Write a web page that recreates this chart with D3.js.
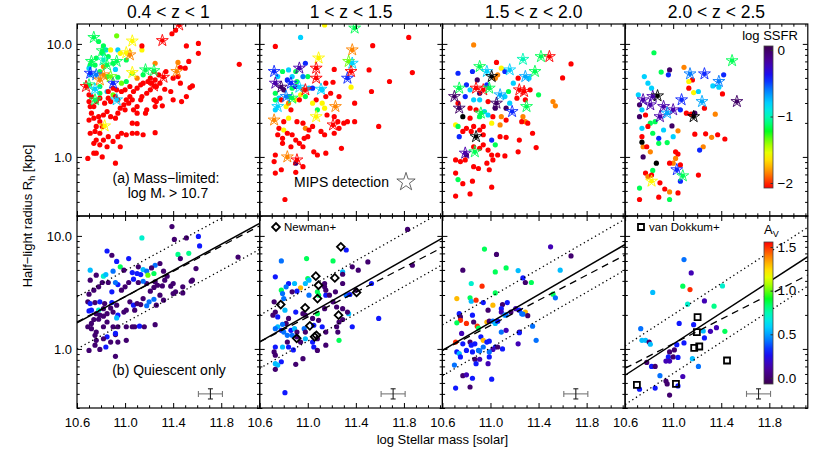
<!DOCTYPE html>
<html>
<head>
<meta charset="utf-8">
<script src="https://cdn.jsdelivr.net/npm/d3@7"></script>
<style>
  body { margin: 0; background: #fff; }
  text { font-family: "Liberation Sans", Arial, Helvetica, sans-serif; fill: #000; }
</style>
</head>
<body>
<svg id="chart" width="830" height="457"></svg>
<script>
// ---- data -------------------------------------------------------------
const panelTitles = ["0.4 < z < 1", "1 < z < 1.5", "1.5 < z < 2.0", "2.0 < z < 2.5"];
const massTicks = [10.6, 11.0, 11.4, 11.8];
const radiusTicks = [1, 10];
const radiusMinor = [0.3, 0.4, 0.5, 0.6, 0.7, 0.8, 0.9, 2, 3, 4, 5, 6, 7, 8, 9];
const ssfrTicks = [0, -1, -2];
const avTicks = [0, 0.5, 1.0, 1.5];

// [log mass, R_h (kpc), log SSFR]  (SSFR above the bar range is drawn black)
const topDots1 = [[10.93,11.8,-1.35],[10.78,10.5,-1.15],[10.82,9.6,-1.15],[10.84,8.85,-0.8],[10.81,8.25,-1.15],[10.86,7.72,-1.15],[10.88,8.85,-1.6],[10.94,8.85,-0.8],[10.96,8.25,-1.6],[10.76,7.5,-1.15],[10.71,6.5,-1.15],[10.70,6.1,-0.8],[10.75,6.5,-1.15],[10.90,6.74,-1.15],[10.92,5.95,-0.8],[10.82,6.3,-1.85],[11.01,7.2,-1.15],[11.14,8.85,-1.6],[11.25,6.74,-1.85],[10.71,5.33,-0.8],[10.79,5.7,-1.15],[10.85,5.14,-1.15],[10.94,5.07,-1.15],[11.06,5.5,-1.15],[11.10,4.97,-1.85],[11.15,5.33,-1.15],[10.97,4.49,-1.35],[11.01,4.65,-1.15],[10.79,4.2,-1.15],[10.85,3.79,-0.8],[10.79,3.66,-1.15],[10.90,3.54,-1.35],[11.44,6.85,-1.85],
  [10.70,3.09,-2.1],[10.71,2.79,-2.1],[10.72,2.44,-2.1],[10.70,2.12,-2.1],[10.74,2.2,-2.1],[10.78,2.27,-2.1],[10.79,2.05,-2.1],[10.82,2.35,-2.1],[10.85,2.52,-2.1],[10.81,1.86,-2.1],[10.76,1.86,-2.1],[10.75,1.68,-2.1],[10.79,1.62,-2.1],[10.71,1.62,-2.1],[10.76,1.41,-2.1],[10.82,1.41,-2.1],[10.86,1.51,-2.1],[10.74,1.32,-2.1],[10.79,1.28,-2.1],[10.85,1.23,-2.1],[10.90,1.37,-2.1],[10.94,1.51,-2.1],[10.96,1.23,-2.1],[10.74,1.08,-2.1],[10.69,0.97,-2.1],[10.76,1.08,-2.1],[10.81,1.0,-2.1],[10.92,0.88,-2.1],[10.97,1.62,-2.1],[11.01,1.57,-2.1],[11.06,1.62,-2.1],[11.10,1.62,-2.1],[11.15,1.57,-2.1],[11.25,1.64,-2.1],[11.06,1.99,-2.1],[11.10,1.97,-2.1],[10.88,2.27,-2.1],[10.92,2.2,-2.1],[10.94,2.44,-2.1],[10.96,2.7,-2.1],[11.0,2.61,-2.1],[11.03,2.99,-2.1],[11.06,3.2,-2.1],[11.10,2.79,-2.1],[11.13,3.2,-2.1],[11.14,3.42,-2.1],[11.18,3.66,-2.1],[11.21,3.92,-2.1],[11.24,3.2,-2.1],[11.26,3.09,-2.1],[11.29,3.31,-2.1],[11.31,2.83,-2.1],[11.25,2.79,-2.1],[11.18,2.61,-2.1],[11.17,2.44,-2.1],[11.10,2.44,-2.1],[11.07,2.61,-2.1],[11.04,3.42,-2.1],[11.01,3.2,-2.1],[10.99,2.89,-2.1],[10.94,3.2,-2.1],[10.92,3.42,-2.1],[10.86,3.31,-2.1],[10.88,3.09,-2.1],[10.83,2.99,-2.1],[10.79,3.31,-2.1],[10.76,3.09,-2.1],[10.72,3.42,-2.1],[10.74,2.79,-2.1],[11.33,3.97,-2.1],[11.38,3.79,-2.1],[11.40,3.2,-2.1],[11.47,3.09,-2.1],[11.51,3.42,-2.1],[11.54,4.11,-2.1],[11.56,4.25,-2.1],[11.46,4.49,-2.1],[11.44,5.14,-2.1],[11.40,4.97,-2.1],[11.29,4.49,-2.1],[11.26,4.2,-2.1],[11.22,4.49,-2.1],[11.19,4.65,-2.1],[11.15,4.49,-2.1],[11.13,4.34,-2.1],[11.10,4.06,-2.1],[11.07,3.79,-2.1],[11.04,4.2,-2.1],[11.0,3.92,-2.1],[10.97,3.79,-2.1],[10.93,3.92,-2.1],[10.90,4.06,-2.1],[10.86,3.79,-2.1],[11.25,4.8,-2.1],[11.28,5.33,-2.1],[11.21,4.97,-2.1],[11.24,5.7,-2.1],[11.34,5.7,-2.1],[11.39,12.3,-2.1],[11.42,13.2,-2.1],[11.51,9.6,-2.1],[11.61,10.1,-2.1],[11.61,8.25,-2.1],[11.53,7.0,-2.1],[11.95,6.6,-2.1],[11.46,6.17,-2.1],[11.50,6.1,-2.1],[11.14,9.6,-2.1],[10.70,3.54,-2.1]];
const topStars1 = [[10.74,11.4,-1.15],[11.06,10.6,-1.6],[11.31,10.7,-2.1],[11.45,14.7,-2.1],[11.01,8.35,-1.6],[11.04,8.0,-1.85],[10.81,8.7,-1.15],[10.82,7.2,-1.0],[10.72,7.0,-1.15],[10.93,7.0,-1.15],[10.71,5.5,-0.45],[10.82,5.33,-1.85],[10.76,5.33,-0.6],[10.90,4.49,-0.45],[10.70,4.34,-1.15],[10.79,4.8,-1.85],[10.75,3.97,-0.8],[11.06,5.58,-1.6],[11.17,5.89,-1.15],[11.24,5.8,-1.15],[11.32,5.07,-2.1],[11.43,5.7,-1.85],[11.24,4.25,-2.1],[10.75,3.2,-1.15],[10.93,3.2,-0.8],[10.83,1.88,-1.6],[10.675,4.2,-2.1],[10.85,6.5,-1.15],[10.88,5.14,-1.35]];

const topDots2 = [[11.14,14.7,-1.6],[10.94,11.4,-0.8],[10.73,9.5,-2.1],[11.84,11.4,-2.1],[11.54,9.65,-2.1],[10.79,5.7,-1.15],[10.84,5.89,-0.8],[10.9,5.7,-1.15],[10.98,6.74,-0.45],[11.0,5.14,-1.15],[11.22,5.95,-2.1],[11.21,4.58,-2.1],[11.36,4.14,-1.6],[11.51,5.89,-2.1],[11.68,4.65,-2.1],[11.87,5.58,-2.1],[11.53,3.79,-2.1],[11.39,2.99,-2.1],[11.26,3.42,-2.1],[11.15,3.42,-2.1],[11.07,3.2,-2.1],[11.12,2.99,-1.6],[11.04,2.99,-1.6],[11.08,2.61,-1.15],[11.14,2.7,-1.6],[11.16,2.35,-2.1],[11.22,2.27,-2.1],[11.25,2.05,-2.1],[11.30,1.99,-2.1],[11.33,2.05,-2.1],[11.39,2.05,-2.1],[11.26,1.79,-2.1],[11.22,1.62,-2.1],[11.14,1.57,-2.1],[11.11,1.68,-2.1],[11.04,1.86,-2.1],[10.98,1.79,-1.85],[11.01,1.73,-2.1],[10.96,1.99,-2.1],[10.91,2.05,-2.1],[10.84,2.2,-1.6],[10.80,2.05,-2.1],[10.76,1.79,-2.1],[10.80,1.73,-1.6],[10.75,1.57,-2.1],[10.79,1.46,-2.1],[10.83,1.62,-2.1],[10.87,1.57,-2.1],[10.9,1.41,-2.1],[10.93,1.32,-2.1],[10.96,1.23,-2.1],[10.97,1.46,-2.1],[11.0,1.51,-2.1],[11.05,1.11,-2.1],[11.08,1.04,-2.1],[11.15,1.08,-2.1],[11.28,1.19,-2.1],[10.86,1.23,-2.1],[10.79,1.32,-2.1],[10.73,1.04,-2.1],[10.72,0.91,-2.1],[10.78,0.77,-2.1],[10.73,0.72,-2.1],[10.90,0.73,-2.1],[10.96,0.82,-2.1],[10.90,0.88,0],[11.59,1.86,-2.1],[10.81,0.42,-2.1],[10.86,2.61,-2.1],[10.82,2.79,-1.6],[10.9,3.2,-1.6],[10.98,3.42,-1.15],[11.01,4.06,-0.8],[10.96,3.92,-1.85],[10.84,3.42,-1.15],[10.76,3.31,-0.8],[10.73,3.66,-1.15],[10.73,3.2,-1.15],[10.75,5.14,-0.8],[10.83,4.8,-0.45],[10.87,5.14,-0.8],[10.96,5.14,-0.6],[10.91,4.65,-1.15],[10.80,3.92,0],[10.87,4.06,-1.15],[10.94,3.54,-1.6],[11.04,4.06,-0.45],[11.12,3.92,-0.8],[11.15,4.49,-2.1],[11.19,3.66,-2.1],[10.73,2.61,-0.8],[10.9,4.2,-0.2],[10.78,3.2,-2.1],[10.84,2.99,-1.85],[10.93,3.2,-2.1]];
const topStars2 = [[11.39,13.8,-1.15],[11.37,8.85,-1.85],[11.09,7.5,-1.6],[11.34,7.0,-1.35],[11.37,6.74,-0.8],[10.93,6.1,-0.2],[10.72,5.7,-0.45],[11.07,6.1,-2.1],[11.33,4.97,-0.45],[11.36,5.7,-2.1],[11.07,4.97,-2.1],[10.73,4.49,-0.2],[10.78,4.14,0],[10.86,4.49,-0.45],[10.93,4.14,-0.8],[10.98,3.92,-2.1],[11.11,3.97,-0.8],[10.75,2.79,-0.8],[11.23,2.79,-1.85],[11.07,2.27,-1.6],[11.21,1.92,-2.1],[10.72,2.12,-1.85],[10.83,1.0,-1.85],[10.91,0.94,-2.1],[10.87,3.31,-1.15],[10.82,3.42,-0.6]];

const topDots3 = [[10.86,9.8,-1.85],[11.67,6.65,-2.1],[11.05,6.85,-2.1],[11.09,6.1,-1.6],[11.12,5.7,-0.45],[11.06,5.33,-1.85],[11.04,4.97,-1.85],[10.73,5.5,-0.45],[10.85,5.7,-0.45],[11.23,4.97,-2.1],[11.32,4.97,-0.8],[10.89,4.8,0],[11.60,5.0,-2.1],[10.80,4.34,-0.45],[10.91,3.66,0],[11.33,3.92,-2.1],[11.15,3.79,-1.15],[10.73,2.99,-2.1],[11.16,2.99,-0.8],[11.13,2.7,0],[11.40,3.54,-1.15],[11.52,3.09,-1.85],[11.54,2.83,-1.85],[10.86,3.2,-0.8],[10.91,3.2,-0.8],[10.98,3.09,-2.1],[10.83,2.7,-2.1],[10.88,2.61,-2.1],[10.95,2.52,-0.8],[10.91,2.27,-1.15],[10.98,2.35,-0.8],[11.02,2.27,-2.1],[11.27,2.27,-1.85],[11.29,2.05,-1.85],[11.26,2.05,-2.1],[11.31,1.99,-2.1],[11.09,2.27,-1.85],[11.13,2.12,-2.1],[11.08,1.92,-1.85],[11.01,1.99,-1.6],[10.71,1.92,-1.6],[10.73,1.86,-1.15],[10.80,1.79,-2.1],[10.86,1.86,-2.1],[10.77,1.68,-2.1],[10.84,1.68,-2.1],[10.74,1.51,-0.45],[10.94,1.57,-2.1],[11.01,1.41,-0.45],[11.08,1.51,-2.1],[11.13,1.49,-2.1],[11.04,1.28,-1.15],[10.94,1.28,-2.1],[10.91,1.19,-2.1],[10.98,1.15,-2.1],[11.01,1.04,-2.1],[11.06,1.04,-2.1],[11.12,1.02,-2.1],[10.86,1.23,-2.1],[10.80,1.04,0],[10.71,0.94,-2.1],[10.75,0.91,-2.1],[10.79,0.94,-2.1],[10.86,0.82,-2.1],[10.90,0.79,-2.1],[10.97,0.88,-2.1],[11.02,0.94,-2.1],[10.99,0.77,-2.1],[11.23,1.11,-2.1],[11.24,1.41,-2.1],[11.38,1.21,-2.1],[11.35,1.62,-2.1],[10.71,0.72,-2.1],[10.73,0.63,-1.15],[10.77,0.58,-2.1],[10.85,0.61,-2.1],[11.01,0.54,-2.1],[10.71,0.45,-2.1],[10.83,0.47,-2.1],[10.94,1.86,-2.1],[10.91,1.73,-2.1],[10.77,2.27,0.3],[10.83,2.2,-2.1],[11.04,2.7,0],[10.97,4.34,-0.45],[10.83,3.92,-0.8],[10.79,3.42,-0.45],[11.19,4.49,-0.8],[11.12,3.42,-0.8],[11.22,3.31,-2.1],[11.29,3.2,-2.1]];
const topStars3 = [[11.49,7.72,-2.1],[11.42,7.72,-1.15],[11.27,7.3,-1.0],[10.91,6.3,-1.15],[10.97,5.7,-0.8],[11.16,5.89,-0.8],[11.01,5.14,0.3],[11.37,5.7,-1.15],[11.29,5.14,-0.7],[10.74,4.06,-1.15],[10.70,3.42,0],[10.74,2.7,0],[10.88,4.06,-2.1],[10.94,3.92,-2.1],[10.99,4.06,-1.15],[11.08,3.54,-0.7],[11.24,3.92,-2.1],[11.28,3.79,-2.1],[11.05,2.99,0],[11.18,2.52,-0.45],[11.30,2.79,-1.15],[10.88,1.51,0.3],[10.79,1.08,-0.2],[10.87,1.11,-1.15],[10.92,2.44,-1.15]];

const topDots4 = [[10.84,8.35,-1.15],[11.09,6.2,-1.85],[10.90,5.63,-1.15],[10.97,5.89,0],[10.96,5.33,-0.45],[10.76,5.14,-0.8],[11.42,5.33,-0.45],[10.79,4.49,-0.8],[10.82,4.06,-0.8],[10.71,3.54,-0.8],[11.13,4.06,-2.1],[11.17,3.71,-1.6],[11.21,3.79,-0.8],[11.16,4.8,-2.1],[11.13,4.65,-1.6],[11.33,4.25,-0.8],[11.38,4.14,-0.8],[11.41,3.61,-2.1],[11.26,2.7,-2.1],[11.35,2.39,-1.85],[11.11,2.44,-2.1],[11.06,2.61,-0.45],[11.15,2.39,-2.1],[11.18,2.44,0],[10.72,2.89,0],[10.74,2.61,-0.8],[10.72,2.27,0],[10.77,2.35,-2.1],[10.85,2.05,-1.15],[10.81,1.99,-1.15],[10.79,1.86,-2.1],[10.74,1.79,-0.8],[10.99,1.88,0],[10.92,1.73,-0.8],[11.04,1.70,-1.85],[11.18,1.59,-2.1],[11.27,1.6,-2.1],[11.32,1.49,-1.85],[11.37,1.57,-2.1],[11.43,1.44,-2.1],[11.25,1.23,-1.85],[11.22,1.15,-0.45],[10.74,1.51,-2.1],[10.75,1.23,-1.85],[10.78,1.23,-2.1],[10.81,1.11,-1.85],[10.83,1.62,-1.15],[10.88,1.46,-0.45],[10.88,1.32,-1.15],[10.95,1.34,-1.15],[11.0,1.51,-0.8],[10.74,1.35,0.3],[10.75,1.0,0],[11.02,1.11,-2.1],[11.04,1.06,-2.1],[11.02,0.97,-1.85],[11.0,0.88,-1.85],[10.97,0.88,-2.1],[11.06,0.85,-2.1],[10.86,0.88,0.3],[10.89,0.59,-2.1],[10.77,0.72,-2.1],[10.79,0.67,-1.85],[10.83,0.76,-1.15],[10.82,0.69,-2.1],[11.06,0.61,-0.45],[11.21,0.69,-2.1],[10.72,0.53,-1.15],[10.93,0.52,-2.1],[10.97,0.49,-1.85],[11.04,0.48,-2.1],[10.72,0.42,-2.1],[10.88,0.44,-2.1],[10.97,0.42,-1.15]];
const topStars4 = [[11.49,7.1,-1.15],[11.53,3.09,0],[11.14,5.43,-0.6],[11.26,5.43,-0.45],[11.38,4.65,-0.6],[10.75,3.2,-0.2],[10.83,3.42,-0.2],[10.87,3.47,0.3],[10.81,2.89,-0.2],[10.92,2.79,-0.2],[11.07,3.2,-0.45],[11.0,2.61,-0.2],[10.89,2.27,-0.2],[10.95,2.44,-0.7],[11.24,3.09,-0.7],[11.17,2.27,0.3],[11.03,0.77,-0.45],[11.08,0.68,-1.15],[10.82,0.61,-1.6]];

// quiescent only: [log mass, R_h (kpc), A_V]
const botDots1 = [[11.39,12.1,0],[11.41,9.3,0],[11.51,9.6,0],[11.61,9.9,0.3],[11.62,8.15,0.3],[11.14,9.6,0.7],[10.85,7.35,0.3],[10.89,6.74,0],[11.03,6.3,0.3],[10.93,5.95,0.3],[11.11,5.33,0],[10.71,4.97,0.55],[10.76,4.49,0],[10.82,4.4,0.7],[10.84,4.55,0.55],[10.96,5.33,0.85],[10.99,4.97,0],[10.90,4.87,0.42],[11.06,4.74,0.3],[11.10,4.65,0.3],[11.13,4.55,0.3],[11.15,5.04,0.55],[11.18,4.87,0.42],[11.19,4.49,1.0],[11.24,4.65,0.85],[11.25,5.5,0.42],[11.29,5.7,0],[11.32,4.87,0],[11.22,5.21,0],[11.44,6.85,0.8],[11.46,6.3,0],[11.53,7.0,0.8],[11.59,5.14,0],[11.56,4.06,0],[11.55,3.97,0],[11.48,3.54,0],[11.40,3.79,0],[11.38,3.59,0],[11.35,4.4,0],[11.33,4.06,0],[11.31,3.61,0],[11.27,3.66,0],[11.24,3.5,0],[11.21,3.24,0],[11.29,2.99,0],[11.32,2.7,0],[11.40,3.09,0],[11.42,3.2,0],[11.48,3.13,0],[11.25,3.92,0],[11.18,3.79,0],[11.15,3.97,0.42],[11.11,3.87,0],[11.07,4.14,0.3],[11.03,3.87,0],[11.0,3.54,0],[10.97,3.31,0],[10.94,3.71,0.3],[10.92,3.87,0.42],[10.89,3.2,0.3],[10.86,3.87,0],[10.81,3.87,0],[10.78,3.54,0],[10.74,3.31,0],[10.71,4.06,0],[10.70,3.05,0],[10.69,2.61,0],[10.71,2.52,0.3],[10.75,2.57,0],[10.79,2.61,0.3],[10.83,2.52,0],[10.89,2.57,0.3],[10.93,2.44,0],[10.88,2.3,0],[10.82,2.27,0],[10.78,2.2,0.7],[10.72,2.2,0.3],[10.70,2.17,0.3],[10.76,2.05,0],[10.79,1.99,0],[10.82,1.95,0],[10.85,2.05,0],[10.90,2.12,0],[10.94,1.99,0.3],[10.99,2.12,0],[11.01,2.2,0],[11.04,2.61,0],[11.07,2.44,0.3],[11.10,2.52,0],[11.13,2.47,0],[11.15,2.79,0],[11.18,2.41,0.42],[11.20,2.61,0.42],[11.24,2.75,0.42],[11.26,2.44,0],[11.08,2.2,0],[10.93,1.88,0.55],[10.74,1.82,0],[10.78,1.83,0],[10.85,1.73,0],[10.72,1.68,0],[10.69,1.57,0],[10.72,1.51,0],[10.76,1.41,0],[10.82,1.57,0],[10.90,1.57,0],[10.92,1.34,0],[10.94,1.57,0],[11.01,1.57,0],[11.06,1.57,0],[11.08,1.57,0],[11.12,1.59,0.3],[11.16,1.57,0],[11.25,1.64,0],[10.75,1.32,0],[10.85,1.28,0.3],[10.92,1.37,0.3],[10.76,1.19,0],[10.82,1.23,0],[10.88,1.15,0],[10.94,1.15,0],[11.01,1.19,0],[10.75,1.08,0],[10.79,0.99,0],[10.70,0.97,0],[10.92,0.86,0],[10.84,1.04,0.3],[11.94,6.5,0]];
const botDots2 = [[11.83,11.4,0],[11.87,5.5,0],[11.50,5.89,0],[11.37,5.33,0],[11.42,4.97,0],[11.32,7.5,0.3],[11.29,4.8,0.55],[11.21,6.0,0.85],[10.99,6.3,0.85],[10.78,6.0,0.42],[10.73,4.34,0.3],[11.0,4.2,0.85],[11.01,4.06,0.55],[10.98,3.79,0.55],[10.94,3.47,1.3],[10.91,3.24,0.3],[10.87,3.2,0],[10.84,3.79,0.3],[10.89,3.79,0.55],[10.78,3.31,0.85],[10.79,3.09,0.42],[11.08,3.2,0.85],[11.09,2.99,0.85],[11.15,2.99,0.3],[11.18,2.99,0],[11.15,3.31,0],[11.23,3.2,0],[11.14,3.54,0],[11.29,3.79,0],[11.40,3.31,0],[11.32,2.99,0.42],[11.35,3.03,0.3],[11.21,2.61,0],[11.24,2.35,0],[11.29,2.27,0],[11.34,2.05,0.55],[11.33,2.12,0],[11.29,1.82,0],[11.26,1.73,0],[11.24,1.57,0],[11.25,1.41,0],[11.26,1.19,0.85],[11.37,1.57,0.3],[11.53,3.79,0.3],[11.59,1.86,0.3],[11.29,4.58,0],[11.14,2.27,0],[11.08,2.05,0.85],[11.04,1.86,0],[10.98,1.99,0],[10.96,2.05,0],[10.90,2.12,0.3],[10.84,1.86,0],[10.82,1.68,0],[10.79,1.65,0.42],[10.75,1.57,0.55],[10.73,1.51,0.42],[10.78,1.46,0.3],[10.80,1.41,0.42],[10.83,1.32,0.42],[10.86,1.46,0.3],[10.89,1.51,0.55],[10.91,1.41,0],[10.97,1.51,0.42],[10.98,1.41,0],[11.05,1.62,0.3],[11.09,1.79,0],[11.12,1.57,0.3],[11.15,1.41,0],[11.08,1.23,0],[11.04,1.15,0.3],[11.05,1.04,0.3],[10.98,1.23,0.55],[10.94,1.15,0],[10.91,1.28,0],[10.87,1.32,0.42],[10.83,1.15,0],[10.84,1.04,0.3],[10.88,0.98,0.3],[10.79,1.04,0.55],[10.73,1.04,0.3],[10.72,0.94,0],[10.73,0.88,0],[10.78,0.77,0.3],[10.73,0.74,0.55],[10.75,0.72,0.55],[10.73,0.66,0],[10.90,0.73,0],[10.96,0.82,0],[11.08,0.97,0],[11.15,1.08,0],[10.72,2.61,0],[10.73,2.12,0],[10.71,1.99,0],[10.75,1.92,0.3],[10.80,2.79,0.42],[10.81,2.2,0.55],[10.82,3.54,0.42],[11.01,2.99,0.42],[10.81,0.41,0.3],[11.14,3.79,0]];
const botDots3 = [[11.50,8.0,0.15],[11.67,6.65,0],[10.95,7.65,0.85],[11.05,6.85,0],[10.77,4.97,0],[11.04,4.8,0.85],[11.13,5.21,0.85],[11.23,4.93,0.55],[11.27,4.25,0.3],[11.29,3.87,0],[11.34,3.87,0.85],[10.84,3.79,0.7],[10.93,3.59,1.5],[10.72,2.79,1.3],[10.83,2.83,0.85],[10.84,2.64,0.55],[10.88,2.7,1.5],[10.94,2.57,0.3],[11.04,3.13,0.85],[11.02,2.44,1.3],[10.98,2.2,0],[11.10,2.47,0],[11.09,2.27,0.3],[11.14,2.57,0.3],[11.09,2.12,0.15],[11.17,2.12,0],[11.21,2.27,0.15],[11.24,2.2,0.3],[11.26,2.05,0.42],[11.29,2.12,1.3],[11.27,2.03,0.42],[11.31,1.97,0],[11.52,3.05,0.85],[11.54,2.83,0.42],[11.58,4.97,0.55],[10.74,2.05,0.3],[10.75,1.92,0],[10.75,1.79,1.5],[10.72,1.70,0.85],[10.80,1.68,1.5],[10.85,1.99,0.3],[10.86,1.73,0],[10.89,1.59,1.5],[10.90,1.53,0.85],[10.97,1.73,1.3],[10.99,1.76,0],[11.02,1.76,0.42],[11.04,1.68,0.55],[11.06,1.76,0.3],[11.12,1.99,0.55],[11.13,2.0,0.42],[11.09,1.41,0.42],[11.13,1.46,0.15],[11.24,1.41,0],[11.24,1.39,0.3],[11.23,1.11,0.15],[11.35,1.59,0.42],[11.38,1.19,0.42],[10.76,1.37,0.15],[10.71,1.15,1.5],[10.77,1.11,0.3],[10.83,1.15,0],[10.84,1.08,0.3],[10.87,1.11,0.3],[10.92,1.28,0.3],[10.94,1.19,1.3],[10.97,1.15,0.3],[10.99,1.17,0.3],[11.04,1.04,0.3],[11.06,1.04,0],[11.02,0.99,0.15],[11.10,1.0,0.3],[10.72,0.94,0.3],[10.74,0.91,0.55],[10.75,0.85,0.3],[10.80,0.97,0.3],[10.85,0.94,0.3],[10.90,0.97,0.42],[10.91,0.96,0.42],[10.94,1.04,0.42],[10.99,0.94,0.42],[10.99,0.85,0.3],[10.98,0.74,0.15],[10.87,0.81,0],[10.91,0.81,0.15],[10.88,0.74,0.3],[10.70,0.72,0.42],[10.77,0.58,0],[10.80,0.59,0.15],[10.85,0.55,0.3],[11.01,0.54,0.3],[10.83,0.46,0],[10.71,0.45,0.3]];
const botDots4 = [[11.09,6.17,0.42],[11.15,4.7,0.15],[11.08,3.59,0.85],[11.14,3.35,1.5],[10.83,3.16,0.55],[11.41,3.61,0.7],[11.12,2.49,0.7],[11.34,2.39,0.8],[11.26,2.66,0.15],[11.05,1.68,0.3],[10.73,1.51,0.42],[11.17,1.64,0.3],[11.25,1.44,0.55],[11.31,1.43,0.15],[11.36,1.54,0.15],[11.43,1.43,0.85],[10.74,1.19,0.55],[10.77,1.19,0.55],[10.80,1.15,0],[10.81,1.1,0.55],[11.09,1.13,0.3],[11.03,1.09,0.3],[11.26,1.25,0.3],[11.16,0.82,0.55],[11.01,0.98,0],[10.97,0.94,0],[10.96,0.85,0.3],[11.0,0.85,0],[10.94,0.78,0.15],[10.97,0.78,0.15],[11.04,0.84,0.3],[10.78,0.76,0],[10.82,0.70,0.3],[10.85,0.70,0],[10.89,0.58,0.42],[11.21,0.7,0.42],[11.08,0.57,0.15],[10.94,0.52,0],[10.95,0.49,0],[11.04,0.47,0.3],[10.85,0.45,0.3],[10.72,0.44,0.3],[10.97,0.39,0]];

// comparison samples [log mass, R_h]
const newman = [[11.275,8.0],[11.067,4.40],[11.089,3.66],[11.225,4.25],[11.081,2.79],[10.775,2.47],[11.406,3.16],[10.978,2.31],[11.256,1.99],[11.017,1.60],[11.072,1.32],[10.908,1.24],[11.057,1.28]];
const vanDokkum = [[11.203,1.91],[11.197,1.41],[11.175,1.02],[11.217,1.05],[11.448,0.79],[10.698,0.48],[11.023,0.49]];

// size-mass fits: log R = a + b (logM - 11)
const fitSolidA = [0.462, 0.304, 0.234, 0.043];
const fitSolidB = [0.58, 0.604, 0.616, 0.69];
const fitDashA = [0.462, 0.282, 0.208, 0.046];
const fitDashB = [0.56, 0.55, 0.556, 0.543];
const fitScatter = [0.23, 0.235, 0.225, 0.26];

// typical error bar
const errMass = 11.71, errRadius = 0.40, errDMass = 0.1, errDLogR = 0.045;

// ---- layout -----------------------------------------------------------
const plotLeft = 77, plotTop = 24, panelW = 182.7, panelH = 192;
const svg = d3.select("#chart");
const defs = svg.append("defs");

const x = d3.scaleLinear().domain([10.6, 12.12]).range([0, panelW]);
const y = d3.scaleLog().domain([0.3, 15]).range([panelH, 0]);

const rainbow = d3.scaleLinear()
  .domain([0, 0.12, 0.22, 0.32, 0.42, 0.52, 0.6, 0.68, 0.77, 0.88, 1])
  .range(["#3c0050", "#4a00a8", "#1010ff", "#0088ff", "#00e0ff", "#00ffa0", "#00ff20", "#90ff00", "#ffff00", "#ff9600", "#ff0000"])
  .clamp(true);
const ssfrPos = d3.scaleLinear().domain([0.06, -2.075]).range([0, 1]).clamp(true);
const avPos = d3.scaleLinear().domain([-0.069, 1.557]).range([0, 1]).clamp(true);
const ssfrColor = v => v > 0.15 ? "#000" : rainbow(ssfrPos(v));
const avColor = v => rainbow(avPos(v));

const topDots = [topDots1, topDots2, topDots3, topDots4];
const topStars = [topStars1, topStars2, topStars3, topStars4];
const botDots = [botDots1, botDots2, botDots3, botDots4];
const massMinor = d3.range(106, 122).map(v => v / 10).filter(v => !massTicks.includes(v));
const starPath = d3.symbol(d3.symbolStar, 44)();
const fmt1 = d3.format(".1f");

function drawTicks(g) {
  const add = (axis, tx, ty) => g.append("g")
    .attr("transform", `translate(${tx},${ty})`)
    .call(axis)
    .call(a => a.select(".domain").remove())
    .call(a => a.selectAll("line").attr("stroke-width", 1));
  [[massTicks, 5], [massMinor, 2.7]].forEach(([vals, len]) => {
    add(d3.axisBottom(x).tickValues(vals).tickSize(-len).tickFormat(""), 0, panelH);
    add(d3.axisTop(x).tickValues(vals).tickSize(-len).tickFormat(""), 0, 0);
  });
  [[radiusTicks, 5], [radiusMinor, 2.7]].forEach(([vals, len]) => {
    add(d3.axisLeft(y).tickValues(vals).tickSize(-len).tickFormat(""), 0, 0);
    add(d3.axisRight(y).tickValues(vals).tickSize(-len).tickFormat(""), panelW, 0);
  });
  g.append("rect").attr("width", panelW).attr("height", panelH)
    .attr("fill", "none").attr("stroke", "#000").attr("stroke-width", 1.2);
}

const fitLine = (a, b) => d3.line()(x.domain().map(m => [x(m), y(Math.pow(10, a + b * (m - 11)))]));

for (let row = 0; row < 2; row++) {
  for (let i = 0; i < 4; i++) {
    const g = svg.append("g").attr("transform", `translate(${plotLeft + i * panelW},${plotTop + row * panelH})`);
    const clipId = `clip${row}${i}`;
    defs.append("clipPath").attr("id", clipId)
      .append("rect").attr("width", panelW).attr("height", panelH);
    const plot = g.append("g").attr("clip-path", `url(#${clipId})`);

    if (row === 0) {
      plot.selectAll(".dot").data(topDots[i]).join("circle").attr("class", "dot")
        .attr("cx", d => x(d[0])).attr("cy", d => y(d[1])).attr("r", 2.6)
        .attr("fill", d => ssfrColor(d[2]));
      plot.selectAll(".star").data(topStars[i]).join("path").attr("class", "star")
        .attr("d", starPath)
        .attr("transform", d => `translate(${x(d[0])},${y(d[1])})`)
        .attr("fill", "none").attr("stroke", d => ssfrColor(d[2])).attr("stroke-width", 0.9);
      plot.selectAll(".starDot").data(topStars[i]).join("circle").attr("class", "starDot")
        .attr("cx", d => x(d[0])).attr("cy", d => y(d[1])).attr("r", 2.4)
        .attr("fill", d => ssfrColor(d[2]));
    } else {
      plot.selectAll(".dot").data(botDots[i]).join("circle").attr("class", "dot")
        .attr("cx", d => x(d[0])).attr("cy", d => y(d[1])).attr("r", 2.6)
        .attr("fill", d => avColor(d[2]));

      plot.append("path").attr("d", fitLine(fitSolidA[i], fitSolidB[i]))
        .attr("stroke", "#000").attr("stroke-width", 1.5).attr("fill", "none");
      plot.append("path").attr("d", fitLine(fitDashA[i], fitDashB[i]))
        .attr("stroke", "#000").attr("stroke-width", 1.3).attr("fill", "none")
        .attr("stroke-dasharray", "7 5");
      [1, -1].forEach(s => {
        plot.append("path").attr("d", fitLine(fitSolidA[i] + s * fitScatter[i], fitSolidB[i]))
          .attr("stroke", "#000").attr("stroke-width", 1.3).attr("fill", "none")
          .attr("stroke-dasharray", "1.3 3");
      });

      const refs = i === 1 ? newman : i === 3 ? vanDokkum : [];
      const refSym = i === 1
        ? d3.symbol(d3.symbolSquare, 30)()
        : d3.symbol(d3.symbolSquare, 36)();
      plot.selectAll(".ref").data(refs).join("path").attr("class", "ref")
        .attr("d", refSym)
        .attr("transform", d => `translate(${x(d[0])},${y(d[1])})` + (i === 1 ? " rotate(45)" : ""))
        .attr("fill", "none").attr("stroke", "#000").attr("stroke-width", 1.8);

      // typical error bar
      const ex = x(errMass), ey = y(errRadius);
      const x0 = x(errMass - errDMass), x1 = x(errMass + errDMass);
      const yA = y(errRadius * Math.pow(10, errDLogR)), yB = y(errRadius / Math.pow(10, errDLogR));
      const eb = g.append("g").attr("stroke-width", 1.1);
      eb.append("line").attr("x1", x0).attr("x2", x1).attr("y1", ey).attr("y2", ey).attr("stroke", "#777");
      [x0, x1].forEach(xx => eb.append("line").attr("x1", xx).attr("x2", xx).attr("y1", ey - 3).attr("y2", ey + 3).attr("stroke", "#777"));
      eb.append("line").attr("x1", ex).attr("x2", ex).attr("y1", yA).attr("y2", yB).attr("stroke", "#222");
      [yA, yB].forEach(yy => eb.append("line").attr("x1", ex - 2.5).attr("x2", ex + 2.5).attr("y1", yy).attr("y2", yy).attr("stroke", "#222"));

      // mass tick labels
      g.append("g").attr("transform", `translate(0,${panelH})`)
        .call(d3.axisBottom(x).tickValues(massTicks).tickSize(0).tickPadding(9.5).tickFormat(fmt1))
        .call(a => a.select(".domain").remove())
        .call(a => a.selectAll("text").attr("font-size", 13).attr("font-family", null));
    }

    drawTicks(g);

    if (i === 0) {
      g.append("g")
        .call(d3.axisLeft(y).tickValues(radiusTicks).tickSize(0).tickPadding(5).tickFormat(fmt1))
        .call(a => a.select(".domain").remove())
        .call(a => a.selectAll("text").attr("font-size", 13).attr("font-family", null));
    }
    if (row === 0) {
      g.append("text").attr("x", panelW / 2).attr("y", -6.5)
        .attr("text-anchor", "middle").attr("font-size", 17.5).text(panelTitles[i]);
    }
  }
}

// ---- axis titles ------------------------------------------------------
svg.append("text").attr("x", plotLeft + 2 * panelW).attr("y", 444)
  .attr("text-anchor", "middle").attr("font-size", 13).text("log Stellar mass [solar]");
const yt = svg.append("text").attr("transform", "translate(32,216) rotate(-90)")
  .attr("text-anchor", "middle").attr("font-size", 13);
yt.append("tspan").text("Half\u2212light radius R");
yt.append("tspan").attr("font-size", 9).attr("dy", 3).text("h");
yt.append("tspan").attr("dy", -3).text(" [kpc]");

// ---- annotations ------------------------------------------------------
svg.append("text").attr("x", 166).attr("y", 183).attr("text-anchor", "middle")
  .attr("font-size", 14).text("(a) Mass\u2212limited:");
const ml = svg.append("text").attr("x", 168).attr("y", 198).attr("text-anchor", "middle").attr("font-size", 14);
ml.append("tspan").text("log M");
ml.append("tspan").attr("font-size", 8).attr("dy", 2).text("*");
ml.append("tspan").attr("dy", -2).text(" > 10.7");

svg.append("text").attr("x", 294).attr("y", 187).attr("font-size", 14).text("MIPS detection");
svg.append("path").attr("d", d3.symbol(d3.symbolStar, 104)())
  .attr("transform", "translate(406,182)")
  .attr("fill", "none").attr("stroke", "#555").attr("stroke-width", 0.9);

svg.append("text").attr("x", 169).attr("y", 375).attr("text-anchor", "middle")
  .attr("font-size", 14).text("(b) Quiescent only");

svg.append("path").attr("d", d3.symbol(d3.symbolSquare, 30)())
  .attr("transform", "translate(276,227) rotate(45)")
  .attr("fill", "none").attr("stroke", "#000").attr("stroke-width", 1.8);
svg.append("text").attr("x", 284).attr("y", 231).attr("font-size", 11.5).text("Newman+");

svg.append("path").attr("d", d3.symbol(d3.symbolSquare, 36)())
  .attr("transform", "translate(641,227)")
  .attr("fill", "none").attr("stroke", "#000").attr("stroke-width", 1.8);
svg.append("text").attr("x", 649).attr("y", 231).attr("font-size", 11.5).text("van Dokkum+");

// ---- colour bars ------------------------------------------------------
function colorBar(id, x0, y0, h, flip, scale, ticks, label) {
  const grad = defs.append("linearGradient").attr("id", id)
    .attr("x1", 0).attr("y1", 0).attr("x2", 0).attr("y2", 1);
  d3.range(0, 1.0001, 0.05).forEach(o => grad.append("stop")
    .attr("offset", o).attr("stop-color", rainbow(flip ? 1 - o : o)));
  svg.append("rect").attr("x", x0).attr("y", y0).attr("width", 9).attr("height", h)
    .attr("fill", `url(#${id})`).attr("stroke", "#444").attr("stroke-width", 0.8);
  svg.append("g").attr("transform", `translate(${x0 + 9},0)`)
    .call(d3.axisRight(scale).tickValues(ticks).tickSize(-2.5).tickPadding(4.5).tickFormat(label))
    .call(a => a.select(".domain").remove())
    .call(a => a.selectAll("line").attr("stroke", "#333"))
    .call(a => a.selectAll("text").attr("font-size", 13.5).attr("font-family", null));
}
const ssfrBarY = d3.scaleLinear().domain([0.06, -2.075]).range([46, 188]);
colorBar("ssfrGrad", 764, 46, 142, false, ssfrBarY, ssfrTicks, v => v === 0 ? "0" : "\u2212" + Math.abs(v));
svg.append("text").attr("x", 770).attr("y", 39.5).attr("text-anchor", "middle")
  .attr("font-size", 13).text("log SSFR");

const avBarY = d3.scaleLinear().domain([-0.069, 1.557]).range([384, 242]);
colorBar("avGrad", 764, 242, 142, true, avBarY, avTicks, fmt1);
const av = svg.append("text").attr("x", 764).attr("y", 234).attr("font-size", 13);
av.append("tspan").text("A");
av.append("tspan").attr("font-size", 9).attr("dy", 3).text("V");
</script>
</body>
</html>
